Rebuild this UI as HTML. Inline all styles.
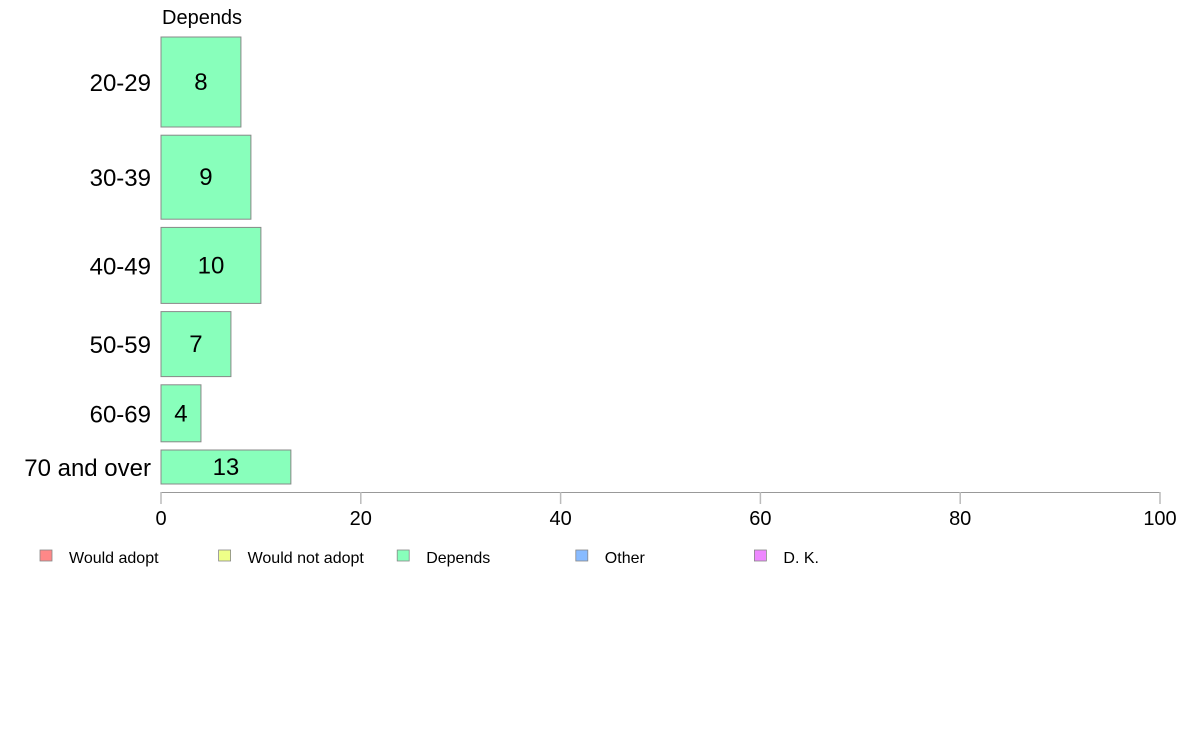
<!DOCTYPE html>
<html><head><meta charset="utf-8"><style>
body{margin:0;background:#fff;font-family:"Liberation Sans",Arial,sans-serif}
</style></head><body>
<svg id="chart" width="1188" height="736" xmlns="http://www.w3.org/2000/svg" font-family="Liberation Sans, Arial, sans-serif">
<text x="162" y="24" font-size="20">Depends</text>
<g id="bars"></g>
<g id="axis"></g>
<g id="legend"></g>
</svg>
<script>
const categories = ["20-29","30-39","40-49","50-59","60-69","70 and over"];
const values = [8,9,10,7,4,13];
const groupSizes = [90,84,76,65,57,34];
const ticks = [0,20,40,60,80,100];
const legendLabels = ["Would adopt","Would not adopt","Depends","Other","D. K."];
const legendColors = ["#ff8888","#eeff88","#88ffbb","#88bbff","#ee88ff"];

const NS="http://www.w3.org/2000/svg";
const x0=161,x1=1160,topY=37,gap=8.2;
const xs=v=>x0+(x1-x0)*v/100;
function mk(tag,attrs,parent){const e=document.createElementNS(NS,tag);for(const k in attrs)e.setAttribute(k,attrs[k]);parent.appendChild(e);return e;}
const bars=document.getElementById('bars');
let yPos=topY;
categories.forEach((c,i)=>{
  const h=groupSizes[i];
  const r=mk('rect',{x:x0,y:yPos,width:xs(values[i])-x0,height:h,fill:'#88ffbb',stroke:'#888','stroke-width':1},bars);
  
  
  const t=mk('text',{x:(x0+xs(values[i]))/2,y:yPos+h/2+8,'font-size':24,'text-anchor':'middle'},bars);
  t.textContent=values[i];
  
  
  const l=mk('text',{x:151,y:yPos+h/2+9,'font-size':24,'text-anchor':'end'},bars);
  l.textContent=c;
  
  
  yPos+=h+gap;
});
const ax=document.getElementById('axis');
const al=mk('line',{x1:x0,x2:x1,y1:492.5,y2:492.5,stroke:'#999','stroke-width':1},ax);


ticks.forEach(t=>{
  const tl=mk('line',{x1:xs(t),x2:xs(t),y1:492,y2:504,stroke:'#bbb','stroke-width':1.5},ax);
  
  
  const tt=mk('text',{x:xs(t),y:525,'font-size':20,'text-anchor':'middle'},ax);
  tt.textContent=t;
  
  
});
const lg=document.getElementById('legend');
legendLabels.forEach((lab,i)=>{
  const lx=40+i*178.6;
  const g=mk('g',{},lg);
  
  
  mk('rect',{x:lx,y:550,width:12,height:11,fill:legendColors[i],stroke:'#888','stroke-width':0.8},g);
  const t=mk('text',{x:lx+29,y:563,'font-size':16},g);
  t.textContent=lab;
});
</script>
</body></html>
